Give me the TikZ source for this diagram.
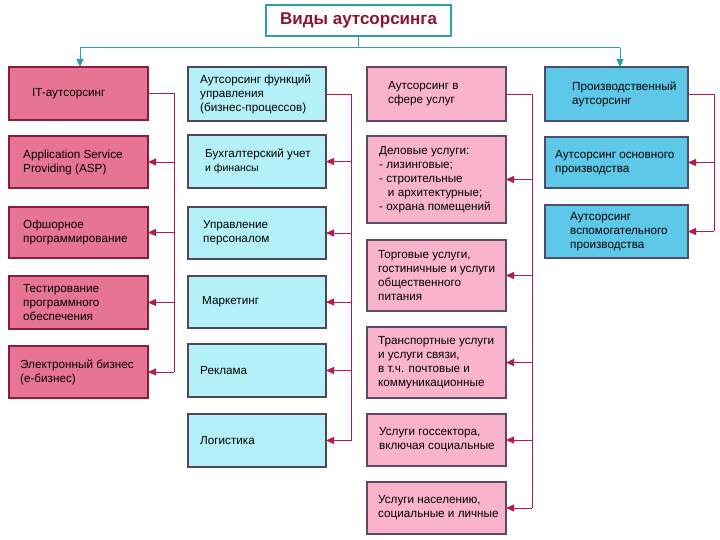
\documentclass[tikz,border=0pt]{standalone}
\usepackage{fontspec}
\setmainfont{Liberation Sans}
\usetikzlibrary{arrows.meta}
\definecolor{fillA}{HTML}{E87494}
\definecolor{fillB}{HTML}{B4F0F8}
\definecolor{fillC}{HTML}{F9B4CC}
\definecolor{fillD}{HTML}{5EC8E8}
\definecolor{lineA}{HTML}{8C1C3C}
\definecolor{lineB}{HTML}{504660}
\definecolor{lineC}{HTML}{5C4A66}
\definecolor{lineD}{HTML}{4C4C6C}
\definecolor{busred}{HTML}{B41C4C}
\definecolor{tealc}{HTML}{2AA0A8}
\definecolor{titlered}{HTML}{8C1430}
\newcommand\mkbox[6]{\node[#6, minimum width=#4-#2, minimum height=#5-#3] (#1) at ({(#2+#4)/2},{(#3+#5)/2}) {};}
\tikzset{
  boxbase/.style={draw, inner sep=0pt, outer sep=0pt, line width=1.1pt},
  colA/.style={boxbase, fill=fillA, draw=lineA},
  colB/.style={boxbase, fill=fillB, draw=lineB},
  colC/.style={boxbase, fill=fillC, draw=lineC},
  colD/.style={boxbase, fill=fillD, draw=lineD},
  txt/.style={anchor=west, align=left, inner sep=0pt, font=\fontsize{11.7}{14}\selectfont, text=black},
  bus/.style={draw=busred, line width=0.9pt},
  arr/.style={bus, -{Triangle[length=8pt,width=7pt]}},
  topline/.style={draw=tealc, line width=1pt},
  toparr/.style={topline, -{Triangle[length=8pt,width=7pt]}},
}
\begin{document}
\begin{tikzpicture}[x=1pt,y=-1pt]
\useasboundingbox[fill=white] (0,0) rectangle (720,540);
% title
\node[boxbase, draw=tealc, fill=white, line width=1.3pt, minimum width=185, minimum height=31,
  font=\fontsize{17}{19}\bfseries, text=titlered] (title) at (358.5,20.5) {Виды аутсорсинга};
% column A
\mkbox{a1}{9}{67}{148}{120}{colA}
\mkbox{a2}{9}{136}{148}{188}{colA}
\mkbox{a3}{9}{207}{148}{258}{colA}
\mkbox{a4}{9}{276}{148}{329}{colA}
\mkbox{a5}{9}{346}{148}{398}{colA}
\node[txt] (ta1) at ([xshift=23pt]a1.west) {IT-аутсорсинг};
\node[txt] (ta2) at ([xshift=14pt]a2.west) {Application Service\\Providing (ASP)};
\node[txt] (ta3) at ([xshift=14pt]a3.west) {Офшорное\\программирование};
\node[txt] (ta4) at ([xshift=14pt]a4.west) {Тестирование\\программного\\обеспечения};
\node[txt] (ta5) at ([xshift=11pt]a5.west) {Электронный бизнес\\(е-бизнес)};
% column B
\mkbox{b1}{188}{67}{326}{121}{colB}
\mkbox{b2}{188}{135}{326}{188}{colB}
\mkbox{b3}{188}{207}{326}{259}{colB}
\mkbox{b4}{188}{276}{326}{328}{colB}
\mkbox{b5}{188}{344}{326}{397}{colB}
\mkbox{b6}{188}{414}{326}{467}{colB}
\node[txt] (tb1) at ([xshift=12pt]b1.west) {Аутсорсинг функций\\управления\\(бизнес-процессов)};
\node[txt] (tb2) at ([xshift=17pt]b2.west) {Бухгалтерский учет\\{\fontsize{10.5}{13}\selectfont и финансы}};
\node[txt] (tb3) at ([xshift=15pt]b3.west) {Управление\\персоналом};
\node[txt] (tb4) at ([xshift=14pt]b4.west) {Маркетинг};
\node[txt] (tb5) at ([xshift=12pt]b5.west) {Реклама};
\node[txt] (tb6) at ([xshift=12pt]b6.west) {Логистика};
% column C
\mkbox{c1}{367}{67}{506}{121}{colC}
\mkbox{c2}{367}{136}{506}{223}{colC}
\mkbox{c3}{367}{240}{506}{311}{colC}
\mkbox{c4}{367}{327}{506}{398}{colC}
\mkbox{c5}{367}{414}{506}{466}{colC}
\mkbox{c6}{367}{482}{506}{534}{colC}
\node[txt] (tc1) at ([xshift=21pt]c1.west) {Аутсорсинг в\\сфере услуг};
\node[txt] (tc2) at ([xshift=12pt]c2.west) {Деловые услуги:\\- лизинговые;\\- строительные\\\hspace*{0.75em}и архитектурные;\\- охрана помещений};
\node[txt] (tc3) at ([xshift=11pt]c3.west) {Торговые услуги,\\гостиничные и услуги\\общественного\\питания};
\node[txt] (tc4) at ([xshift=11pt]c4.west) {Транспортные услуги\\и услуги связи,\\в т.ч. почтовые и\\коммуникационные};
\node[txt] (tc5) at ([xshift=12pt]c5.west) {Услуги госсектора,\\включая социальные};
\node[txt] (tc6) at ([xshift=11pt]c6.west) {Услуги населению,\\социальные и личные};
% column D
\mkbox{d1}{545}{67}{688}{121}{colD}
\mkbox{d2}{545}{137}{688}{188}{colD}
\mkbox{d3}{545}{205}{688}{258}{colD}
\node[txt] (td1) at ([xshift=27pt]d1.west) {Производственный\\аутсорсинг};
\node[txt] (td2) at ([xshift=10pt]d2.west) {Аутсорсинг основного\\производства};
\node[txt] (td3) at ([xshift=25pt]d3.west) {Аутсорсинг\\вспомогательного\\производства};
% top connectors
\coordinate (tl) at (80,48);
\coordinate (tr) at (620,48);
\draw[topline] (title.south) |- (tl);
\draw[topline] (title.south) |- (tr);
\draw[toparr] (tl) -- (tl |- a1.north);
\draw[toparr] (tr) -- (tr |- d1.north);
% buses
\coordinate (ka) at (174,0);
\coordinate (kb) at (351,0);
\coordinate (kc) at (532,0);
\coordinate (kd) at (714,0);
\draw[bus] (a1.east) -| (ka |- a5.east);
\foreach \n in {a2,a3,a4,a5} \draw[arr] (ka |- \n.east) -- (\n.east);
\draw[bus] (b1.east) -| (kb |- b6.east);
\foreach \n in {b2,b3,b4,b5,b6} \draw[arr] (kb |- \n.east) -- (\n.east);
\draw[bus] (c1.east) -| (kc |- c6.east);
\foreach \n in {c2,c3,c4,c5,c6} \draw[arr] (kc |- \n.east) -- (\n.east);
\draw[bus] (d1.east) -| (kd |- d3.east);
\foreach \n in {d2,d3} \draw[arr] (kd |- \n.east) -- (\n.east);
\end{tikzpicture}
\end{document}
